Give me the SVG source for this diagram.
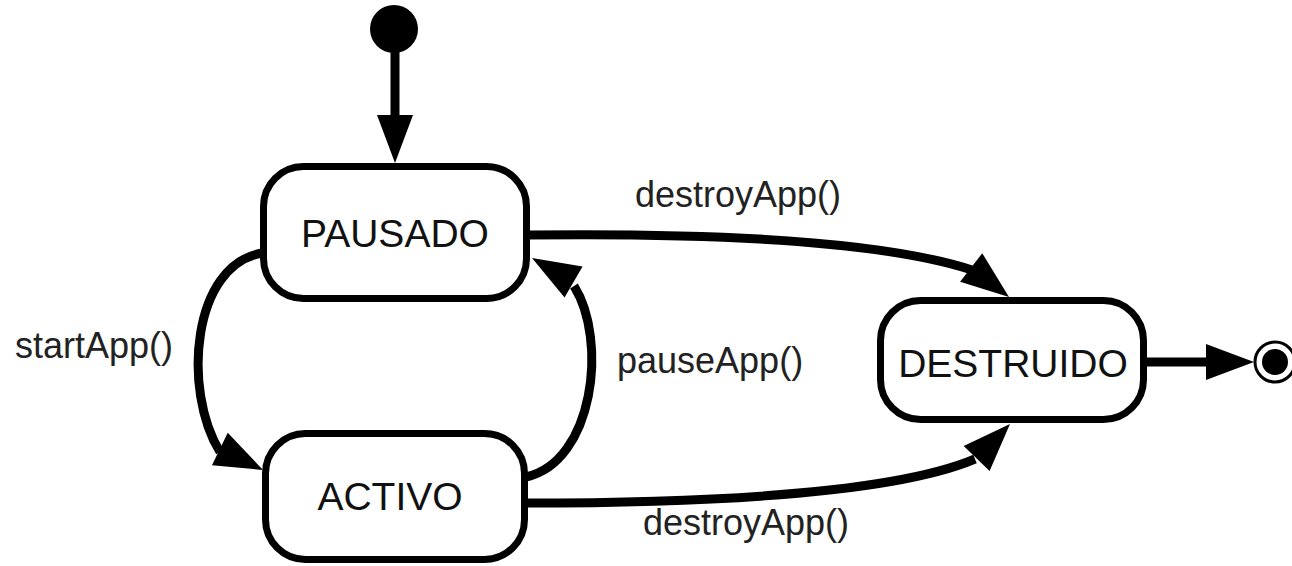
<svg xmlns="http://www.w3.org/2000/svg" xmlns:xlink="http://www.w3.org/1999/xlink" width="1292" height="566" viewBox="0 0 1292 566">
<style>
.state{fill:#fff;stroke:#000;stroke-width:7}
.name{font-family:"Liberation Sans",Arial,sans-serif;font-size:39px;fill:#111;text-anchor:middle}
.lbl{font-family:"Liberation Sans",Arial,sans-serif;font-size:36px;fill:#222}
.edge{fill:none;stroke:#000;stroke-width:9}
.head{fill:#000}
</style>
<defs>
<path id="ah" d="M0,0 L-48,-18 L-48,18 Z"/>
</defs>
<rect width="1292" height="566" fill="#fff"/>
<g id="connectors">
<line class="edge" x1="395" y1="30" x2="395" y2="118" stroke-width="10"/>
<use href="#ah" class="head" transform="translate(395,163) rotate(90)"/>
<path class="edge" d="M528,235 C700,233 880,240 972,270"/>
<use href="#ah" class="head" transform="translate(1009,297) rotate(38)"/>
<path class="edge" d="M262,253 C192,265 182,390 220,452"/>
<use href="#ah" class="head" transform="translate(263,470) rotate(26)"/>
<path class="edge" d="M526,477 C594,462 608,340 574,286"/>
<use href="#ah" class="head" transform="translate(532,258) rotate(210)"/>
<path class="edge" d="M526,503 C700,503 890,495 975,459"/>
<use href="#ah" class="head" transform="translate(1010,424) rotate(-46)"/>
<line class="edge" x1="1146" y1="362" x2="1210" y2="362"/>
<use href="#ah" class="head" transform="translate(1254,362)"/>
</g>
<g id="start"><circle cx="394" cy="29" r="24" fill="#000"/></g>
<g id="pausado"><rect class="state" x="263.5" y="166.5" width="263" height="132" rx="40"/><text class="name" x="395" y="247">PAUSADO</text></g>
<g id="activo"><rect class="state" x="265.5" y="433.5" width="259" height="126" rx="40"/><text class="name" x="390" y="510">ACTIVO</text></g>
<g id="destruido"><rect class="state" x="880.5" y="300.5" width="263" height="119" rx="40"/><text class="name" x="1013" y="377">DESTRUIDO</text></g>
<g id="end"><circle cx="1275" cy="362" r="20" fill="#fff" stroke="#000" stroke-width="3"/><circle cx="1275" cy="362" r="13" fill="#000"/></g>
<g id="labels">
<text class="lbl" x="635" y="207">destroyApp()</text>
<text class="lbl" x="15" y="358">startApp()</text>
<text class="lbl" x="617" y="373">pauseApp()</text>
<text class="lbl" x="643" y="535">destroyApp()</text>
</g>
</svg>
